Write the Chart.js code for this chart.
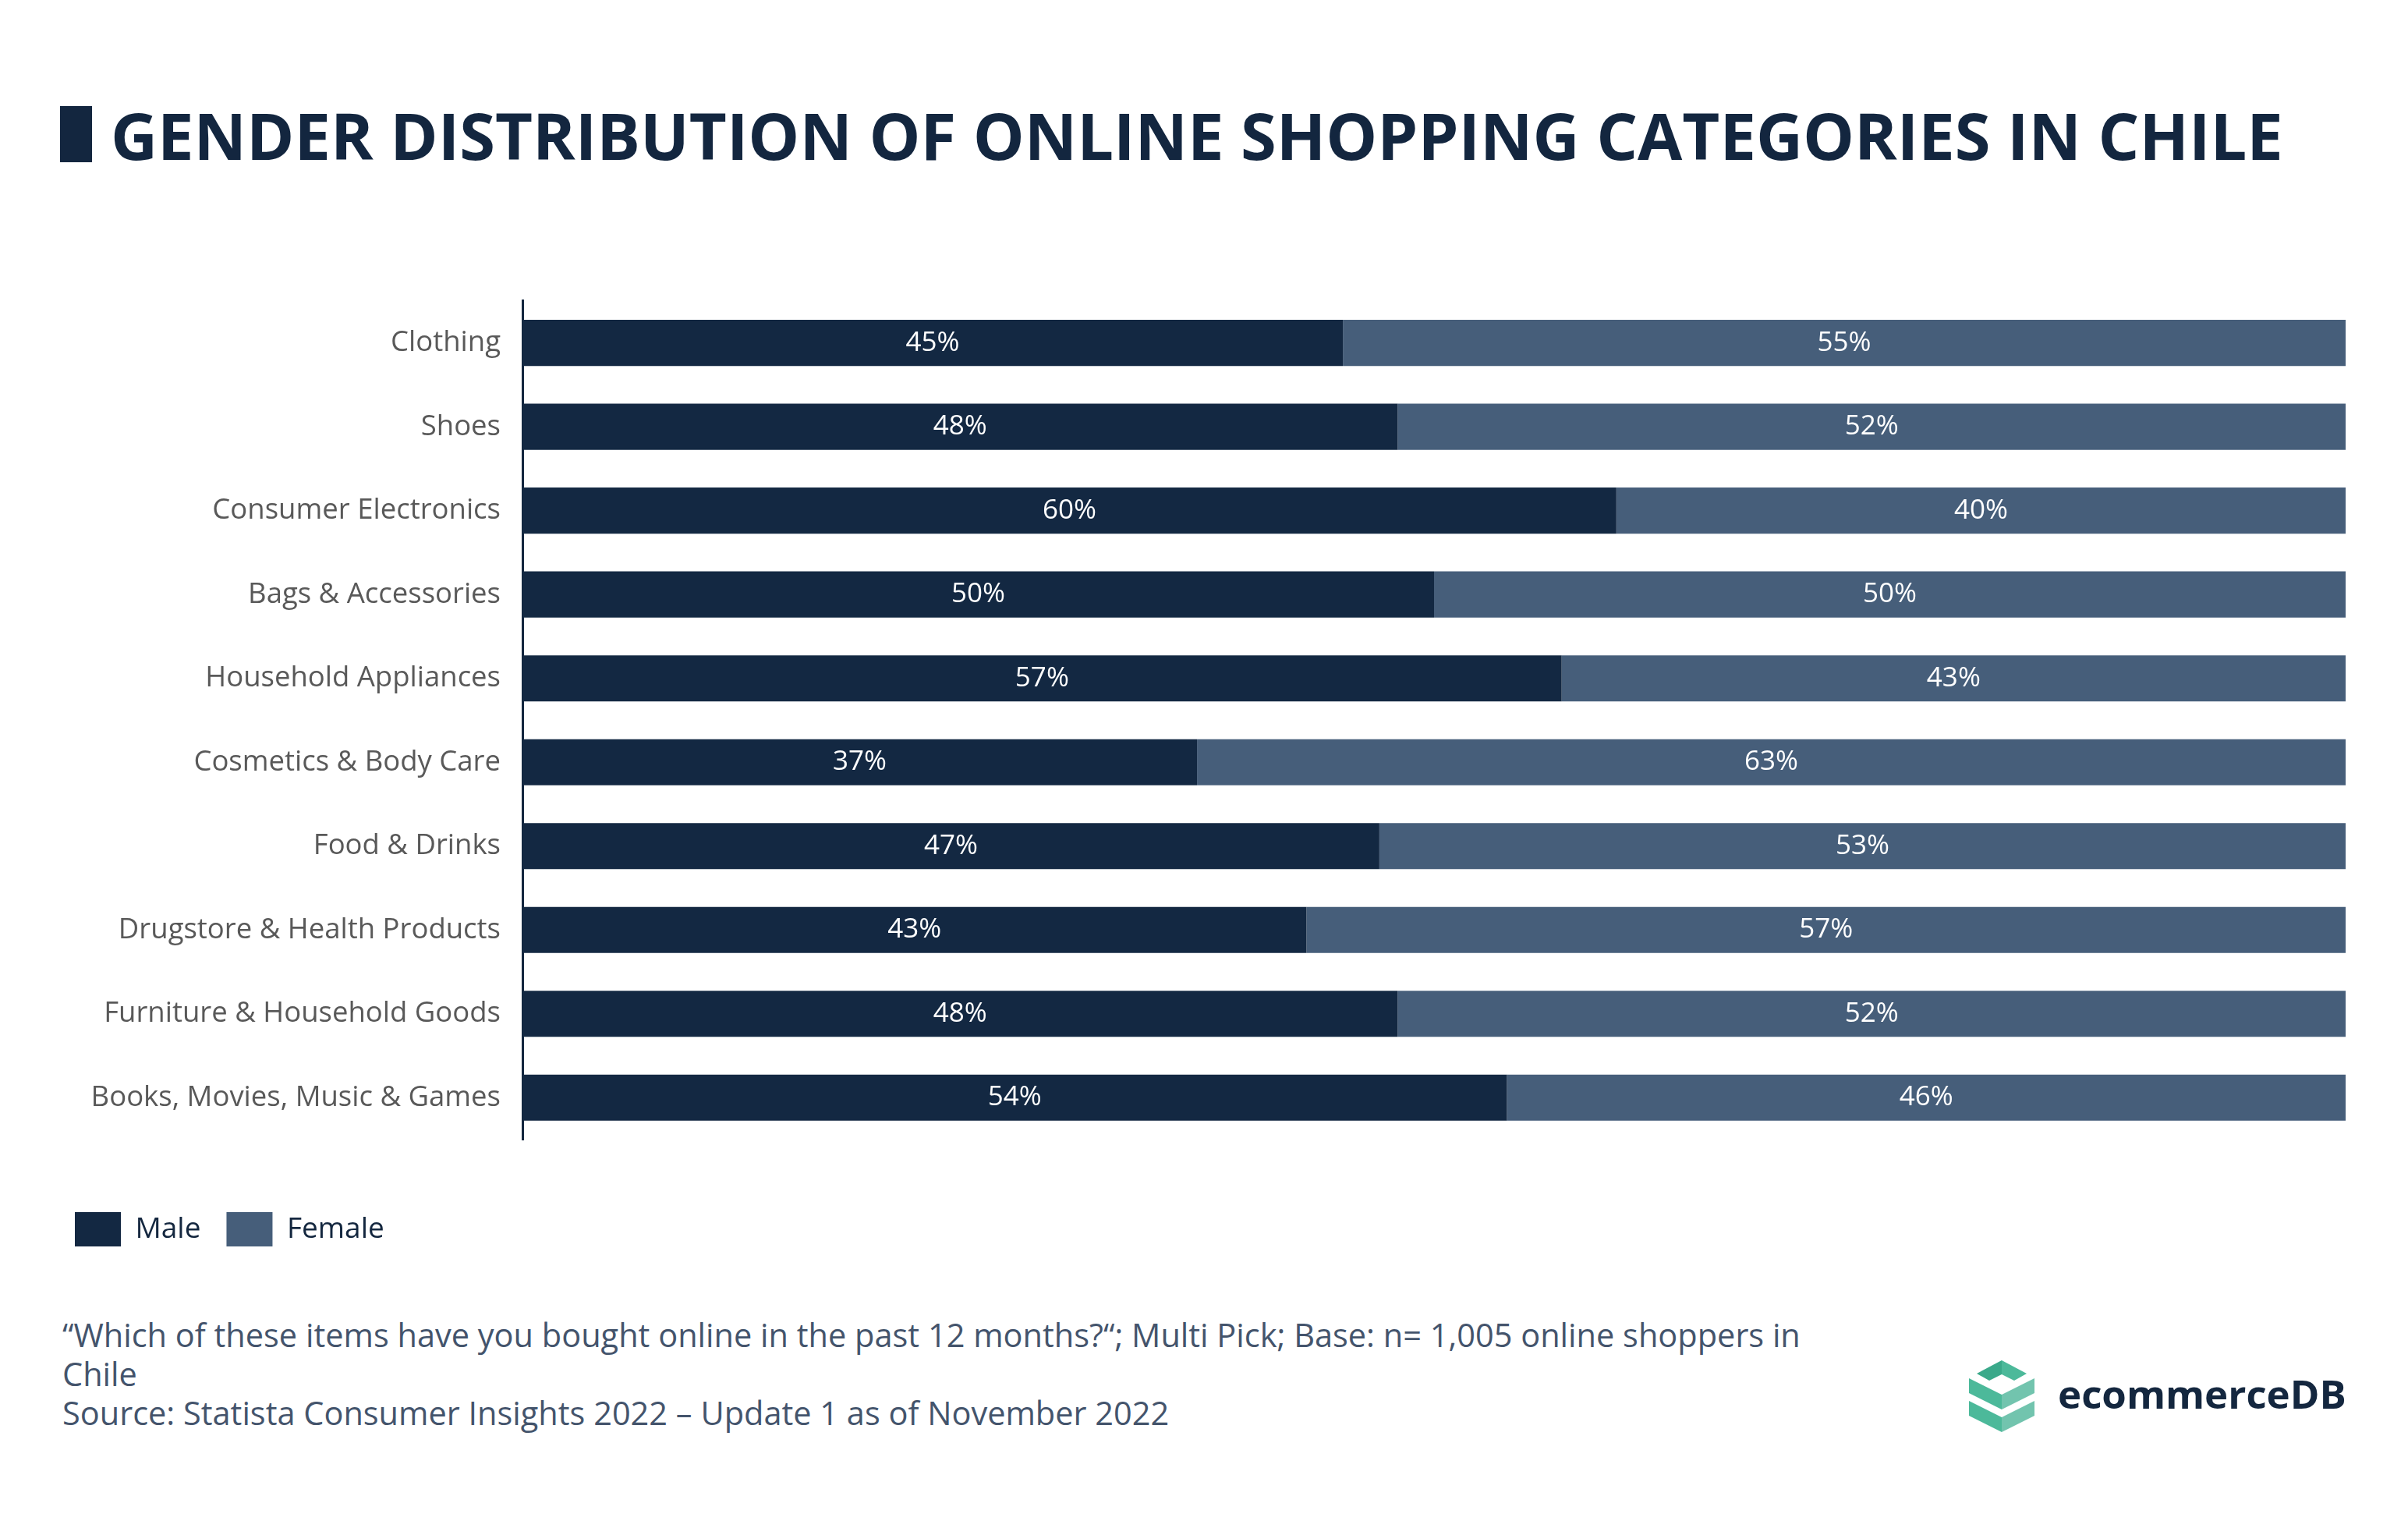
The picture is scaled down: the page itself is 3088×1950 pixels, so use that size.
<!DOCTYPE html>
<html>
<head>
<meta charset="utf-8">
<script src="https://cdn.jsdelivr.net/npm/chart.js@4.4.0/dist/chart.umd.min.js"></script>
<style>
  html, body { margin: 0; padding: 0; background: #fff; }
  body { width: 3088px; height: 1950px; position: relative; overflow: hidden; font-family: 'Open Sans', sans-serif; }
  #titleBox { position: absolute; left: 77px; top: 136px; width: 41px; height: 72px; background: #13263f; }
  #title { position: absolute; left: 142px; top: 131px; font-size: 83px; line-height: 84px; font-weight: 700; color: #13263f; white-space: nowrap; }
  #wrap { position: absolute; left: 0; top: 336px; width: 3088px; height: 1272px; }
  #foot { position: absolute; left: 80px; top: 1686px; font-size: 41.5px; line-height: 50px; color: #44546c; white-space: nowrap; }
  #logo { position: absolute; left: 2525px; top: 1744px; }
  #logoText { position: absolute; left: 2639px; top: 1761px; font-size: 51px; line-height: 50px; font-weight: 700; color: #14273f; }
</style>
</head>
<body>
<div id="titleBox"></div>
<div id="title">GENDER DISTRIBUTION OF ONLINE SHOPPING CATEGORIES IN CHILE</div>
<div id="wrap"><canvas id="genderChart"></canvas></div>
<div id="foot">“Which of these items have you bought online in the past 12 months?“; Multi Pick; Base: n= 1,005 online shoppers in<br>Chile<br>Source: Statista Consumer Insights 2022 – Update 1 as of November 2022</div>
<svg id="logo" width="84" height="92" viewBox="0 0 84 92">
  <polygon points="10,17 42,0 42,18 26,26" fill="#3aa98a"/>
  <polygon points="42,0 74,17 58,26 42,18" fill="#4cb99a"/>
  <polygon points="0,23 42,44 42,63 0,42" fill="#4cb99a"/>
  <polygon points="42,44 84,23 84,42 42,63" fill="#72c4ae"/>
  <polygon points="0,52 42,73 42,92 0,71" fill="#4cb99a"/>
  <polygon points="42,73 84,52 84,71 42,92" fill="#72c4ae"/>
</svg>
<div id="logoText">ecommerceDB</div>

<script>
const categories = ['Clothing', 'Shoes', 'Consumer Electronics', 'Bags & Accessories', 'Household Appliances',
    'Cosmetics & Body Care', 'Food & Drinks', 'Drugstore & Health Products', 'Furniture & Household Goods',
    'Books, Movies, Music & Games'];
const male = [45, 48, 60, 50, 57, 37, 47, 43, 48, 54];
const female = [55, 52, 40, 50, 43, 63, 53, 57, 52, 46];

Chart.defaults.font.family = "'Open Sans', sans-serif";

// white percentage labels in the middle of each segment
const barLabels = {
    id: 'barLabels',
    afterDatasetsDraw(chart) {
        const ctx = chart.ctx;
        ctx.save();
        ctx.font = '35px "Open Sans"';
        ctx.fillStyle = '#ffffff';
        ctx.textAlign = 'center';
        ctx.textBaseline = 'middle';
        chart.data.datasets.forEach((ds, i) => {
            chart.getDatasetMeta(i).data.forEach((bar, j) => {
                const p = bar.getProps(['x', 'y', 'base'], true);
                ctx.fillText(ds.data[j] + '%', (p.x + p.base) / 2, p.y);
            });
        });
        ctx.restore();
    }
};

const genderChart = new Chart(document.getElementById('genderChart'), {
    type: 'bar',
    data: {
        labels: categories,
        datasets: [{
            label: 'Male',
            data: male,
            backgroundColor: '#132842',
            barPercentage: 0.55,
            categoryPercentage: 1
        }, {
            label: 'Female',
            data: female,
            backgroundColor: '#465e7a',
            barPercentage: 0.55,
            categoryPercentage: 1
        }]
    },
    options: {
        indexAxis: 'y',
        responsive: true,
        maintainAspectRatio: false,
        animation: false,
        layout: { padding: { top: 0, right: 80, left: 63, bottom: 0 } },
        scales: {
            x: {
                stacked: true,
                min: 0,
                max: 100,
                grid: { display: false },
                border: { display: false },
                ticks: { display: false },
                afterFit: s => { s.height = 60; }
            },
            y: {
                stacked: true,
                grid: { display: false, drawTicks: false },
                border: { display: true, color: '#14273f', width: 3 },
                ticks: { color: '#595959', font: { size: 36.5 }, padding: 28 },
                afterFit: s => { s.width = 607; }
            }
        },
        plugins: {
            legend: {
                position: 'bottom',
                align: 'start',
                labels: {
                    boxWidth: 59,
                    boxHeight: 44,
                    padding: 33,
                    color: '#14273f',
                    font: { size: 37 }
                }
            },
            tooltip: { enabled: false }
        }
    },
    plugins: [barLabels]
});
</script>
</body>
</html>
